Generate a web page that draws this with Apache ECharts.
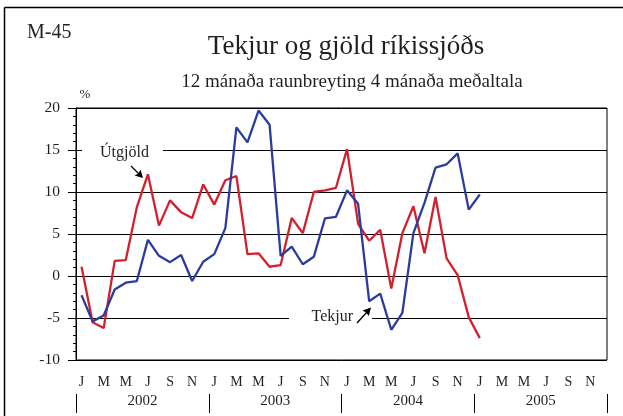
<!DOCTYPE html>
<html>
<head>
<meta charset="utf-8">
<script src="https://cdn.jsdelivr.net/npm/echarts@6/dist/echarts.min.js"></script>
<style>
  html, body { margin: 0; padding: 0; background: #fff; }
  #chart { width: 623px; height: 416px; }
</style>
</head>
<body>
<div id="chart"></div>
<script>
// Monthly axis, Jan 2002 – Dec 2005
const monthLetters = ['J','F','M','A','M','J','J','A','S','O','N','D'];
const years = ['2002', '2003', '2004', '2005'];
const months = [];
years.forEach(function (y) {
  monthLetters.forEach(function (m, k) { months.push(y + '-' + (k + 1)); });
});

// 12-month real change of 4-month moving averages (%), Jan 2002 – Jan 2005
const utgjold = [
  1.1, -5.5, -6.2, 1.8, 1.9, 8.2, 12.1, 6.0, 9.0, 7.6, 6.9, 10.9,
  8.5, 11.4, 11.9, 2.6, 2.7, 1.1, 1.3, 6.9, 5.1, 10.0, 10.2, 10.5,
  15.1, 6.2, 4.2, 5.5, -1.5, 5.1, 8.3, 2.7, 9.4, 2.1, 0.1, -4.9,
  -7.4
];
const tekjur = [
  -2.3, -5.4, -4.7, -1.6, -0.8, -0.6, 4.3, 2.4, 1.65, 2.5, -0.6, 1.7,
  2.6, 5.7, 17.7, 15.9, 19.7, 18.0, 2.4, 3.5, 1.4, 2.3, 6.85, 7.05,
  10.2, 8.6, -3.0, -2.1, -6.4, -4.4, 5.1, 8.7, 12.9, 13.3, 14.6, 7.9,
  9.7
];

const serif = '"Liberation Serif", "Times New Roman", serif';
const ink = '#231f20';
const red = '#d2202e';
const blue = '#2b3c9e';

const chart = echarts.init(document.getElementById('chart'), null, { renderer: 'canvas' });

chart.setOption({
  animation: false,
  backgroundColor: '#fff',
  grid: {
    left: 76, right: 16, top: 108, bottom: 56,
    show: true, borderColor: '#000', borderWidth: 1,
    backgroundColor: 'transparent'
  },
  xAxis: [
    {
      type: 'category',
      data: months,
      boundaryGap: true,
      axisLine: { lineStyle: { color: '#000', width: 1 } },
      axisTick: { alignWithLabel: true, interval: 0, length: 7, lineStyle: { color: '#000' } },
      axisLabel: {
        interval: 1,
        margin: 15,
        color: ink,
        fontFamily: serif,
        fontSize: 14,
        formatter: function (v) {
          const k = parseInt(v.split('-')[1], 10) - 1;
          return monthLetters[k];
        }
      },
      splitLine: { show: false }
    },
    {
      type: 'category',
      data: years,
      boundaryGap: true,
      position: 'bottom',
      offset: 53,
      axisLine: { show: false },
      axisTick: { show: true, inside: true, interval: 0, length: 19, lineStyle: { color: '#000' } },
      axisLabel: { inside: true, margin: 4, color: ink, fontFamily: serif, fontSize: 15 },
      splitLine: { show: false }
    }
  ],
  yAxis: {
    type: 'value',
    min: -10, max: 20, interval: 5,
    axisLine: { show: true, lineStyle: { color: '#000', width: 1 } },
    axisTick: { show: true, length: 8, lineStyle: { color: '#000' } },
    minorTick: { show: true, splitNumber: 5, length: 3, lineStyle: { color: '#000' } },
    axisLabel: { margin: 16, color: ink, fontFamily: serif, fontSize: 15.5 },
    splitLine: { show: true, lineStyle: { color: '#000', width: 1 } }
  },
  graphic: [
    // outer frame (left and top edges)
    { type: 'line', z: 1, shape: { x1: 4.5, y1: 7.5, x2: 623, y2: 7.5 }, style: { stroke: '#000', lineWidth: 1.5 } },
    { type: 'line', z: 1, shape: { x1: 4.5, y1: 7.5, x2: 4.5, y2: 416 }, style: { stroke: '#000', lineWidth: 1.5 } },
    // chart id and headings
    { type: 'text', z: 1, x: 27, y: 33, style: { text: 'M-45', font: '20px ' + serif, fill: ink, textAlign: 'left', textVerticalAlign: 'middle' } },
    { type: 'text', z: 1, x: 346, y: 47, style: { text: 'Tekjur og gjöld ríkissjóðs', font: '27px ' + serif, fill: ink, textAlign: 'center', textVerticalAlign: 'middle' } },
    { type: 'text', z: 1, x: 352, y: 82, style: { text: '12 mánaða raunbreyting 4 mánaða meðaltala', font: '19px ' + serif, fill: ink, textAlign: 'center', textVerticalAlign: 'middle' } },
    { type: 'text', z: 1, x: 85, y: 95, style: { text: '%', font: '13px ' + serif, fill: ink, textAlign: 'center', textVerticalAlign: 'middle' } },
    // breaks in the gridlines behind the series labels
    { type: 'rect', z: 1, shape: { x: 82, y: 145, width: 81, height: 11 }, style: { fill: '#fff' } },
    { type: 'rect', z: 1, shape: { x: 289, y: 314, width: 83, height: 10 }, style: { fill: '#fff' } },
    // series labels with arrows
    { type: 'text', z: 1, x: 100, y: 160.5, style: { text: 'Útgjöld', font: '16px ' + serif, fill: ink, textAlign: 'left', textVerticalAlign: 'bottom' } },
    { type: 'line', z: 1, shape: { x1: 131, y1: 166, x2: 139, y2: 174 }, style: { stroke: '#000', lineWidth: 1.3 } },
    { type: 'polygon', z: 1, shape: { points: [[143, 178], [140.5, 169.5], [138.5, 173.5], [134.5, 175.5]] }, style: { fill: '#000' } },
    { type: 'text', z: 1, x: 311.5, y: 325, style: { text: 'Tekjur', font: '16px ' + serif, fill: ink, textAlign: 'left', textVerticalAlign: 'bottom' } },
    { type: 'line', z: 1, shape: { x1: 357, y1: 323, x2: 367, y2: 312 }, style: { stroke: '#000', lineWidth: 1.3 } },
    { type: 'polygon', z: 1, shape: { points: [[371, 307.5], [368.8, 316], [366, 312.5], [362.5, 310.6]] }, style: { fill: '#000' } }
  ],
  series: [
    {
      name: 'Útgjöld',
      type: 'line',
      data: utgjold,
      showSymbol: false,
      z: 3,
      lineStyle: { color: red, width: 2.3 },
      itemStyle: { color: red }
    },
    {
      name: 'Tekjur',
      type: 'line',
      data: tekjur,
      showSymbol: false,
      z: 3,
      lineStyle: { color: blue, width: 2.3 },
      itemStyle: { color: blue }
    }
  ]
});
</script>
</body>
</html>
